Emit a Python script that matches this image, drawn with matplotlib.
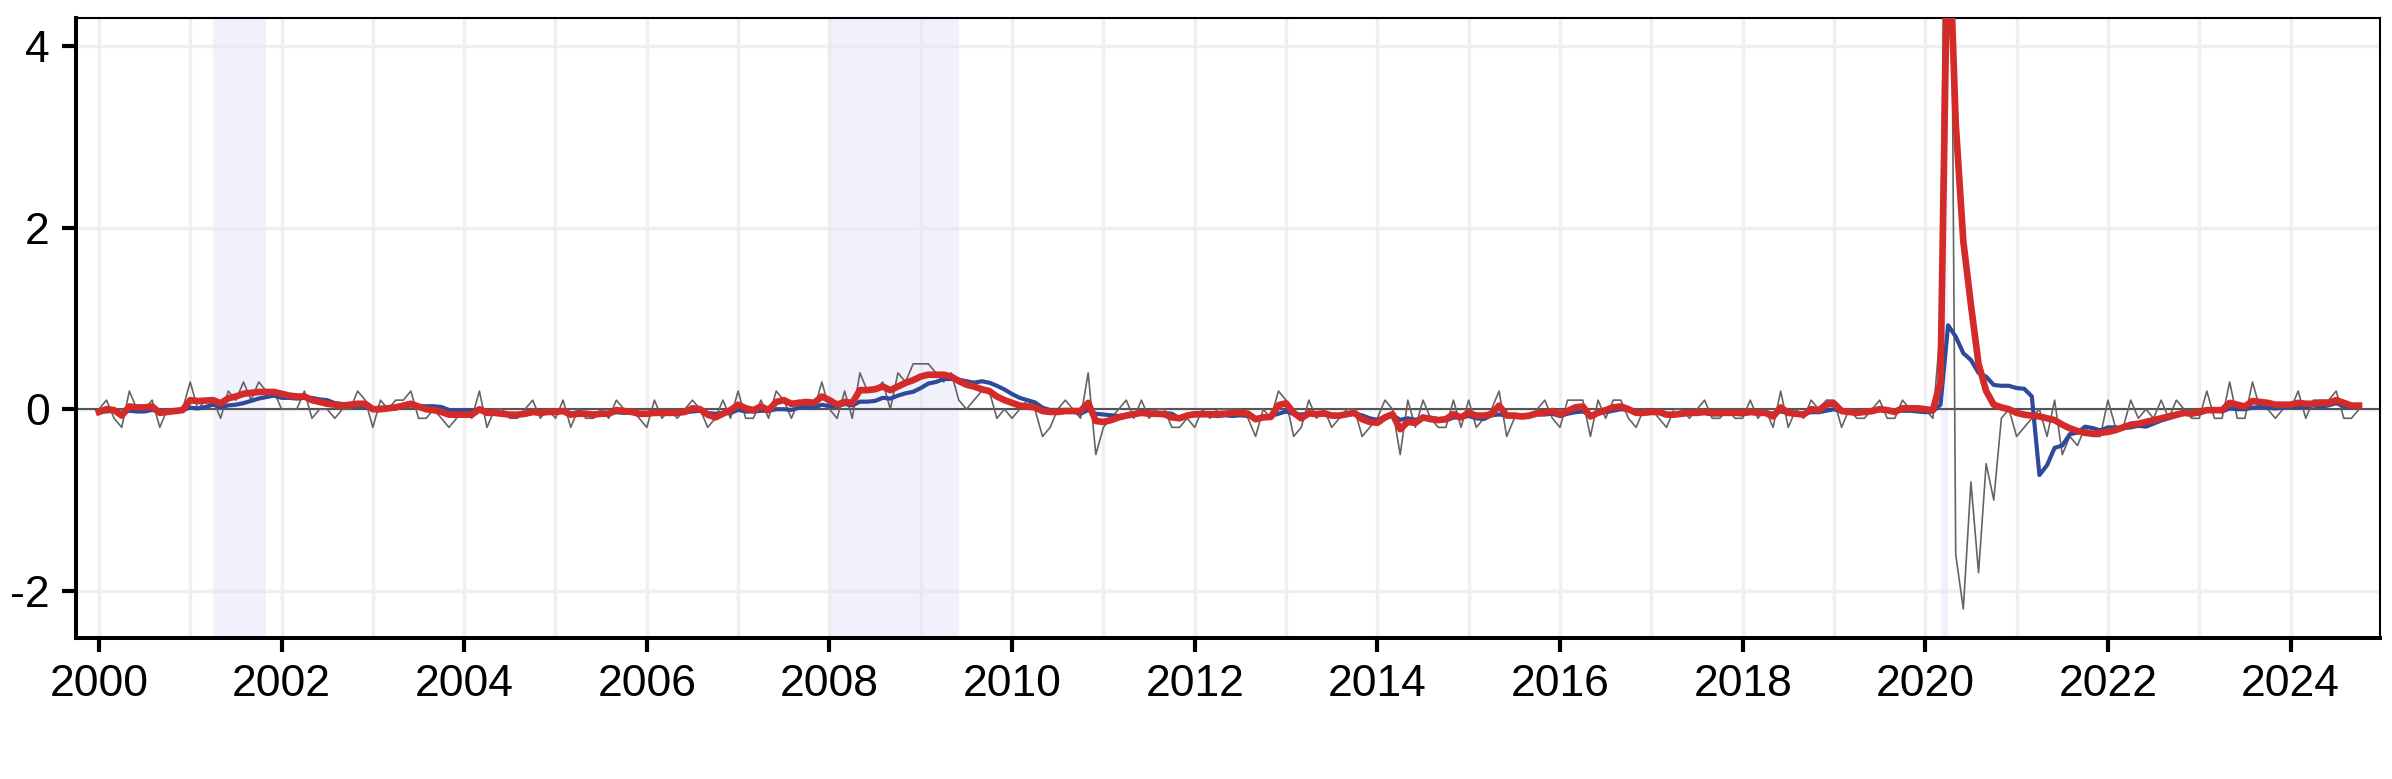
import matplotlib
import pandas as pd

matplotlib.use("Agg")
import matplotlib.pyplot as plt
from matplotlib.ticker import MultipleLocator

# Monthly change in the unemployment rate (grey), Jan 2000 - Oct 2024
monthly_change = [
    0.0, 0.1, -0.1, -0.2, 0.2, 0.0, 0.0, 0.1, -0.2, 0.0, 0.0, 0.0,  # 2000
    0.3, 0.0, 0.1, 0.1, -0.1, 0.2, 0.1, 0.3, 0.1, 0.3, 0.2, 0.2,  # 2001
    0.0, 0.0, 0.0, 0.2, -0.1, 0.0, 0.0, -0.1, 0.0, 0.0, 0.2, 0.1,  # 2002
    -0.2, 0.1, 0.0, 0.1, 0.1, 0.2, -0.1, -0.1, 0.0, -0.1, -0.2, -0.1,  # 2003
    0.0, -0.1, 0.2, -0.2, 0.0, 0.0, -0.1, -0.1, 0.0, 0.1, -0.1, 0.0,  # 2004
    -0.1, 0.1, -0.2, 0.0, -0.1, -0.1, 0.0, -0.1, 0.1, 0.0, 0.0, -0.1,  # 2005
    -0.2, 0.1, -0.1, 0.0, -0.1, 0.0, 0.1, 0.0, -0.2, -0.1, 0.1, -0.1,  # 2006
    0.2, -0.1, -0.1, 0.1, -0.1, 0.2, 0.1, -0.1, 0.1, 0.0, 0.0, 0.3,  # 2007
    0.0, -0.1, 0.2, -0.1, 0.4, 0.2, 0.2, 0.3, 0.0, 0.4, 0.3, 0.5,  # 2008
    0.5, 0.5, 0.4, 0.3, 0.4, 0.1, 0.0, 0.1, 0.2, 0.2, -0.1, 0.0,  # 2009
    -0.1, 0.0, 0.1, 0.0, -0.3, -0.2, 0.0, 0.1, 0.0, -0.1, 0.4, -0.5,  # 2010
    -0.2, -0.1, 0.0, 0.1, -0.1, 0.1, -0.1, 0.0, 0.0, -0.2, -0.2, -0.1,  # 2011
    -0.2, 0.0, -0.1, 0.0, 0.0, 0.0, 0.0, -0.1, -0.3, 0.0, -0.1, 0.2,  # 2012
    0.1, -0.3, -0.2, 0.1, -0.1, 0.0, -0.2, -0.1, 0.0, 0.0, -0.3, -0.2,  # 2013
    -0.1, 0.1, 0.0, -0.5, 0.1, -0.2, 0.1, -0.1, -0.2, -0.2, 0.1, -0.2,  # 2014
    0.1, -0.2, -0.1, 0.0, 0.2, -0.3, -0.1, -0.1, -0.1, 0.0, 0.1, -0.1,  # 2015
    -0.2, 0.1, 0.1, 0.1, -0.3, 0.1, -0.1, 0.1, 0.1, -0.1, -0.2, 0.0,  # 2016
    0.0, -0.1, -0.2, 0.0, 0.0, -0.1, 0.0, 0.1, -0.1, -0.1, 0.0, -0.1,  # 2017
    -0.1, 0.1, -0.1, 0.0, -0.2, 0.2, -0.2, 0.0, -0.1, 0.1, 0.0, 0.1,  # 2018
    0.1, -0.2, 0.0, -0.1, -0.1, 0.0, 0.1, -0.1, -0.1, 0.1, 0.0, 0.0,  # 2019
    0.0, -0.1, 0.9, 10.4, -1.6, -2.2, -0.8, -1.8, -0.6, -1.0, -0.1, 0.0,  # 2020
    -0.3, -0.2, -0.1, 0.0, -0.3, 0.1, -0.5, -0.3, -0.4, -0.2, -0.3, -0.3,  # 2021
    0.1, -0.2, -0.2, 0.1, -0.1, 0.0, -0.1, 0.1, -0.1, 0.1, 0.0, -0.1,  # 2022
    -0.1, 0.2, -0.1, -0.1, 0.3, -0.1, -0.1, 0.3, 0.0, 0.0, -0.1, 0.0,  # 2023
    0.0, 0.2, -0.1, 0.1, 0.1, 0.1, 0.2, -0.1, -0.1, 0.0,  # 2024
]

# 12-month average change (blue)
avg_12m = [
    -0.025, -0.025, -0.017, -0.042, -0.017, -0.025, -0.025, -0.008, -0.025, -0.017, -0.017, -0.008,
    0.017, 0.008, 0.025, 0.05, 0.025, 0.042, 0.05, 0.067, 0.092, 0.117, 0.133, 0.15,
    0.125, 0.125, 0.117, 0.125, 0.125, 0.108, 0.1, 0.067, 0.058, 0.033, 0.033, 0.025,
    0.008, 0.017, 0.017, 0.008, 0.025, 0.042, 0.033, 0.033, 0.033, 0.025, -0.008, -0.025,
    -0.008, -0.025, -0.008, -0.033, -0.042, -0.058, -0.058, -0.058, -0.058, -0.042, -0.033, -0.025,
    -0.033, -0.017, -0.05, -0.033, -0.042, -0.05, -0.042, -0.042, -0.033, -0.042, -0.033, -0.042,
    -0.05, -0.05, -0.042, -0.042, -0.042, -0.033, -0.025, -0.017, -0.042, -0.05, -0.042, -0.042,
    -0.008, -0.025, -0.025, -0.017, -0.017, 0.0, 0.0, -0.008, 0.017, 0.025, 0.017, 0.05,
    0.033, 0.033, 0.058, 0.042, 0.083, 0.083, 0.092, 0.125, 0.117, 0.15, 0.175, 0.192,
    0.233, 0.283, 0.3, 0.333, 0.333, 0.325, 0.308, 0.292, 0.308, 0.292, 0.258, 0.217,
    0.167, 0.125, 0.1, 0.075, 0.017, -0.008, -0.008, -0.008, -0.025, -0.05, -0.008, -0.05,
    -0.058, -0.067, -0.075, -0.067, -0.05, -0.025, -0.033, -0.042, -0.042, -0.05, -0.1, -0.067,
    -0.067, -0.058, -0.067, -0.075, -0.067, -0.075, -0.067, -0.075, -0.1, -0.083, -0.075, -0.05,
    -0.025, -0.05, -0.058, -0.05, -0.058, -0.058, -0.075, -0.075, -0.05, -0.05, -0.067, -0.1,
    -0.117, -0.083, -0.067, -0.117, -0.1, -0.117, -0.092, -0.092, -0.108, -0.125, -0.092, -0.092,
    -0.075, -0.1, -0.108, -0.067, -0.058, -0.067, -0.083, -0.083, -0.075, -0.058, -0.058, -0.05,
    -0.075, -0.05, -0.033, -0.025, -0.067, -0.033, -0.033, -0.017, 0.0, -0.008, -0.033, -0.025,
    -0.008, -0.025, -0.05, -0.058, -0.033, -0.05, -0.042, -0.042, -0.058, -0.058, -0.042, -0.05,
    -0.058, -0.042, -0.033, -0.033, -0.05, -0.025, -0.042, -0.05, -0.05, -0.033, -0.033, -0.017,
    0.0, -0.025, -0.017, -0.025, -0.017, -0.033, -0.008, -0.017, -0.017, -0.017, -0.017, -0.025,
    -0.033, -0.025, 0.05, 0.925, 0.8, 0.617, 0.542, 0.4, 0.358, 0.267, 0.258, 0.258,
    0.233, 0.225, 0.142, -0.725, -0.617, -0.425, -0.4, -0.275, -0.258, -0.192, -0.208, -0.233,
    -0.2, -0.2, -0.208, -0.2, -0.183, -0.192, -0.158, -0.125, -0.1, -0.075, -0.05, -0.033,
    -0.05, -0.017, -0.008, -0.025, 0.008, 0.0, 0.0, 0.017, 0.025, 0.017, 0.008, 0.017,
    0.025, 0.025, 0.025, 0.042, 0.025, 0.042, 0.067, 0.033, 0.025, 0.025,
]

# Smoothed short-run change (red)
smoothed = [
    -0.03, 0.0, -0.01, -0.07, 0.03, 0.02, 0.02, 0.03, -0.04, -0.03, -0.02, -0.01,
    0.1, 0.09, 0.095, 0.1, 0.065, 0.12, 0.14, 0.17, 0.18, 0.19, 0.19, 0.19,
    0.17, 0.15, 0.14, 0.14, 0.1, 0.08, 0.06, 0.05, 0.04, 0.05, 0.06, 0.06,
    0.0, 0.0, 0.01, 0.02, 0.04, 0.06, 0.03, 0.0, -0.01, -0.03, -0.06, -0.06,
    -0.06, -0.06, 0.0, -0.04, -0.04, -0.05, -0.06, -0.06, -0.05, -0.03, -0.04, -0.03,
    -0.03, -0.02, -0.06, -0.05, -0.05, -0.06, -0.05, -0.05, -0.01, -0.02, -0.03, -0.05,
    -0.05, -0.04, -0.04, -0.04, -0.04, -0.03, 0.01, 0.0, -0.06, -0.09, -0.05, -0.01,
    0.05, 0.01, -0.01, 0.03, -0.01, 0.08, 0.1, 0.06, 0.07, 0.08, 0.07, 0.14,
    0.1, 0.05, 0.08, 0.07, 0.21, 0.21, 0.22, 0.25, 0.21, 0.25, 0.29, 0.32,
    0.36, 0.38, 0.38, 0.38, 0.36, 0.31, 0.27, 0.25, 0.22, 0.2, 0.14, 0.1,
    0.07, 0.04, 0.03, 0.02, -0.02, -0.03, -0.03, -0.02, -0.02, -0.02, 0.07, -0.13,
    -0.14, -0.12, -0.09, -0.07, -0.055, -0.04, -0.05, -0.05, -0.055, -0.09, -0.1, -0.07,
    -0.055, -0.055, -0.055, -0.055, -0.05, -0.04, -0.04, -0.05, -0.11, -0.09, -0.085, 0.045,
    0.065, -0.04, -0.1, -0.045, -0.055, -0.045, -0.07, -0.07, -0.055, -0.04, -0.11, -0.14,
    -0.15, -0.09, -0.055, -0.22, -0.14, -0.15, -0.09, -0.11, -0.12, -0.11, -0.055, -0.09,
    -0.04, -0.07, -0.07, -0.055, 0.04, -0.07, -0.07, -0.08, -0.07, -0.045, -0.04, -0.02,
    -0.055, -0.02, 0.02, 0.03, -0.08, -0.04, -0.01, 0.02, 0.03, 0.0, -0.04, -0.04,
    -0.03, -0.03, -0.06, -0.06, -0.05, -0.04, -0.04, -0.03, -0.04, -0.04, -0.04, -0.04,
    -0.04, -0.03, -0.04, -0.04, -0.08, 0.02, -0.04, -0.05, -0.06, 0.0, -0.01, 0.05,
    0.065, -0.02, -0.03, -0.04, -0.03, -0.02, 0.0, -0.01, -0.03, 0.01, 0.01, 0.01,
    0.0, -0.01, 0.3, 5.6, 3.15, 1.85, 1.15, 0.5, 0.2, 0.05, 0.02, 0.0,
    -0.04, -0.06, -0.07, -0.08, -0.1, -0.12, -0.17, -0.21, -0.24, -0.26, -0.27, -0.26,
    -0.25, -0.23, -0.2, -0.17, -0.16, -0.14, -0.12, -0.1, -0.08, -0.06, -0.04, -0.05,
    -0.03, -0.01, -0.01, -0.01, 0.07, 0.05, 0.03, 0.09, 0.08, 0.07, 0.05, 0.05,
    0.05, 0.07, 0.06, 0.06, 0.07, 0.07, 0.1, 0.07, 0.04, 0.04,
]

# Recession periods (decimal years)
recessions = [(2001.25, 2001.833), (2008.0, 2009.417), (2020.167, 2020.25)]

year_ticks = list(range(2000, 2025, 2))
y_ticks = [-2, 0, 2, 4]

months = pd.date_range("2000-01-01", periods=len(monthly_change), freq="MS")
x = months.year + (months.month - 1) / 12

plt.rcParams["font.family"] = ["Liberation Sans", "DejaVu Sans"]
plt.rcParams["axes.unicode_minus"] = False

fig = plt.figure(figsize=(23.92, 7.79), dpi=100)
ax = fig.add_axes([0.0318, 0.181, 0.9632, 0.796])

for start, end in recessions:
    ax.axvspan(start, end, color="#e4e4fa", alpha=0.5, lw=0, zorder=1)

ax.axhline(0, color="#555555", lw=1.5, zorder=2)
ax.plot(x, monthly_change, color="#646464", lw=1.2, zorder=3)
ax.plot(x, avg_12m, color="#2e4b9b", lw=3.0, zorder=4)
ax.plot(x, smoothed, color="#d42a2a", lw=4.8, zorder=5)

ax.set_xlim(1999.75, 2024.98)
ax.set_ylim(-2.52, 4.31)

ax.set_xticks(year_ticks)
ax.set_xticklabels([str(y) for y in year_ticks])
ax.xaxis.set_minor_locator(MultipleLocator(1))
ax.set_yticks(y_ticks)
ax.set_yticklabels([str(v) for v in y_ticks])

ax.set_axisbelow(True)
ax.grid(which="both", axis="x", color="#efefef", lw=2.5, zorder=0)
ax.grid(which="major", axis="y", color="#efefef", lw=2.5, zorder=0)

ax.tick_params(which="major", direction="out", length=10, width=3,
               labelsize=32, color="black")
ax.tick_params(axis="x", which="major", pad=9)
ax.tick_params(axis="y", which="major", pad=9)
ax.tick_params(which="minor", length=0)

for side in ("left", "bottom"):
    ax.spines[side].set_linewidth(2.9)
for side in ("top", "right"):
    ax.spines[side].set_linewidth(1.5)

fig.savefig("out.png", dpi=100)
